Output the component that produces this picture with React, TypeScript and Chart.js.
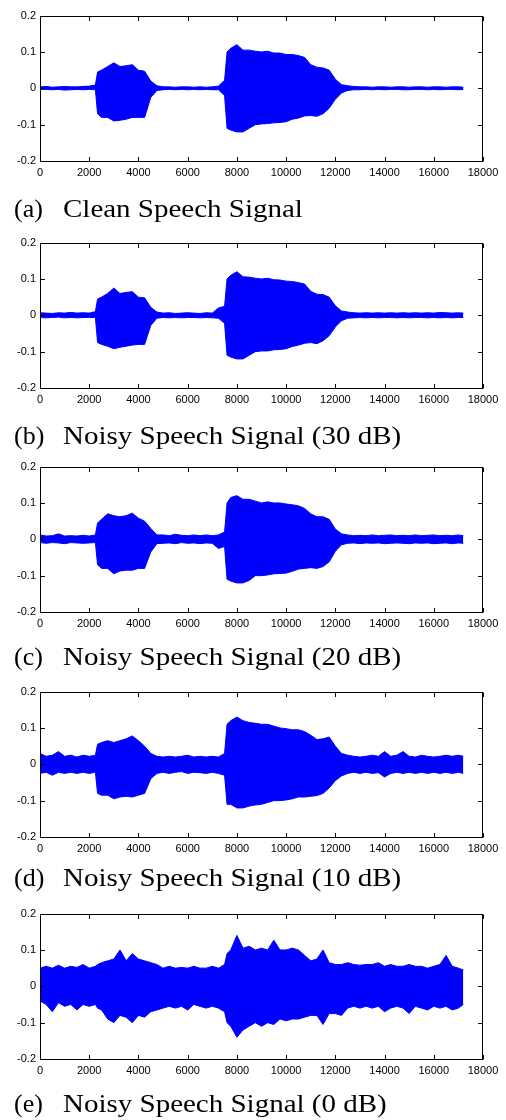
import React, { useEffect, useRef } from 'react';
import { Chart, registerables } from 'chart.js';

Chart.register(...registerables);

// sample positions (x axis) at which the envelope was read
const XS = [
  0, 250, 500, 750, 1000, 1250, 1500, 1750, 2000, 2250, 2340,
  2500, 2750, 3000, 3250, 3500, 3750, 4000, 4250, 4500, 4750,
  5000, 5250, 5500, 5750, 6000, 6250, 6500, 6750, 7000, 7250,
  7500, 7600, 7750, 8000, 8250, 8500, 8750, 9000, 9250, 9500, 9750,
  10000, 10250, 10500, 10750, 11000, 11250, 11500, 11750, 12000, 12250,
  12500, 12750, 13000, 13250, 13500, 13750, 14000, 14250, 14500, 14750,
  15000, 15250, 15500, 15750, 16000, 16250, 16500, 16750, 17000, 17200,
];

// (a) clean speech: upper / lower envelope
const A_HI = [
  0.004, 0.005, 0.003, 0.004, 0.005, 0.004, 0.004, 0.005, 0.006, 0.009, 0.045,
  0.05, 0.06, 0.07, 0.06, 0.062, 0.065, 0.05, 0.047, 0.02, 0.007,
  0.004, 0.004, 0.003, 0.004, 0.004, 0.003, 0.004, 0.003, 0.004, 0.006,
  0.022, 0.1, 0.11, 0.12, 0.105, 0.105, 0.102, 0.1, 0.102, 0.097, 0.097,
  0.093, 0.093, 0.09, 0.085, 0.065, 0.058, 0.056, 0.05, 0.025, 0.01,
  0.007, 0.005, 0.004, 0.004, 0.003, 0.004, 0.004, 0.003, 0.004, 0.004,
  0.003, 0.004, 0.004, 0.003, 0.004, 0.004, 0.003, 0.004, 0.004, 0.003,
];
const A_LO = [
  -0.003, -0.003, -0.004, -0.003, -0.005, -0.004, -0.003, -0.004, -0.003, -0.004, -0.07,
  -0.08, -0.08, -0.09, -0.088, -0.085, -0.08, -0.08, -0.08, -0.025, -0.006,
  -0.004, -0.003, -0.004, -0.003, -0.004, -0.003, -0.004, -0.003, -0.004, -0.004,
  -0.02, -0.11, -0.115, -0.12, -0.12, -0.11, -0.1, -0.098, -0.097, -0.095, -0.094,
  -0.092, -0.085, -0.082, -0.076, -0.075, -0.077, -0.07, -0.055, -0.03, -0.013,
  -0.006, -0.004, -0.004, -0.003, -0.004, -0.003, -0.004, -0.003, -0.003, -0.004,
  -0.004, -0.003, -0.003, -0.004, -0.003, -0.004, -0.003, -0.003, -0.004, -0.003,
];

// (b) 30 dB
const B_HI = [
  0.007, 0.006, 0.005, 0.007, 0.006, 0.008, 0.006, 0.007, 0.006, 0.01, 0.045,
  0.05, 0.06, 0.075, 0.06, 0.063, 0.065, 0.05, 0.048, 0.022, 0.009,
  0.006, 0.007, 0.005, 0.006, 0.007, 0.006, 0.005, 0.007, 0.006, 0.02,
  0.025, 0.1, 0.11, 0.12, 0.106, 0.105, 0.102, 0.1, 0.102, 0.098, 0.097,
  0.094, 0.093, 0.09, 0.086, 0.066, 0.058, 0.057, 0.05, 0.026, 0.012,
  0.009, 0.007, 0.006, 0.007, 0.006, 0.007, 0.006, 0.007, 0.006, 0.007,
  0.006, 0.007, 0.006, 0.007, 0.006, 0.008, 0.007, 0.006, 0.007, 0.006,
];
const B_LO = [
  -0.006, -0.007, -0.006, -0.005, -0.007, -0.006, -0.007, -0.006, -0.006, -0.006, -0.075,
  -0.08, -0.085, -0.092, -0.088, -0.085, -0.082, -0.08, -0.08, -0.028, -0.008,
  -0.006, -0.007, -0.006, -0.007, -0.006, -0.006, -0.007, -0.006, -0.007, -0.008,
  -0.022, -0.11, -0.115, -0.12, -0.12, -0.11, -0.1, -0.098, -0.098, -0.095, -0.094,
  -0.092, -0.086, -0.082, -0.077, -0.075, -0.078, -0.07, -0.056, -0.032, -0.015,
  -0.008, -0.007, -0.006, -0.007, -0.006, -0.007, -0.006, -0.006, -0.007, -0.006,
  -0.007, -0.006, -0.006, -0.007, -0.006, -0.007, -0.006, -0.007, -0.006, -0.006,
];

// (c) 20 dB
const C_HI = [
  0.012, 0.009, 0.01, 0.015, 0.009, 0.01, 0.009, 0.011, 0.009, 0.012, 0.045,
  0.055, 0.07, 0.065, 0.062, 0.065, 0.072, 0.058, 0.05, 0.03, 0.012,
  0.012, 0.01, 0.014, 0.011, 0.01, 0.012, 0.01, 0.012, 0.01, 0.012,
  0.02, 0.1, 0.115, 0.12, 0.11, 0.11, 0.105, 0.1, 0.103, 0.1, 0.1,
  0.097, 0.095, 0.092, 0.085, 0.07, 0.062, 0.062, 0.055, 0.028, 0.015,
  0.012, 0.01, 0.011, 0.01, 0.012, 0.01, 0.011, 0.012, 0.01, 0.011,
  0.01, 0.012, 0.01, 0.011, 0.012, 0.01, 0.011, 0.01, 0.012, 0.01,
];
const C_LO = [
  -0.009, -0.011, -0.009, -0.01, -0.012, -0.009, -0.01, -0.011, -0.01, -0.009, -0.07,
  -0.08, -0.08, -0.095, -0.087, -0.085, -0.085, -0.08, -0.08, -0.035, -0.012,
  -0.011, -0.01, -0.012, -0.009, -0.011, -0.01, -0.012, -0.01, -0.011, -0.025,
  -0.02, -0.11, -0.115, -0.12, -0.12, -0.113, -0.1, -0.1, -0.098, -0.095, -0.094,
  -0.093, -0.088, -0.082, -0.08, -0.078, -0.08, -0.075, -0.062, -0.033, -0.015,
  -0.011, -0.01, -0.012, -0.01, -0.011, -0.01, -0.012, -0.011, -0.01, -0.011,
  -0.012, -0.01, -0.011, -0.01, -0.012, -0.011, -0.01, -0.012, -0.01, -0.011,
];

// (d) 10 dB
const D_HI = [
  0.03, 0.022, 0.025, 0.035, 0.022, 0.025, 0.02, 0.025, 0.022, 0.025, 0.055,
  0.06, 0.065, 0.06, 0.065, 0.07, 0.078, 0.065, 0.05, 0.03, 0.022,
  0.02, 0.022, 0.02, 0.022, 0.025, 0.02, 0.022, 0.02, 0.022, 0.02,
  0.03, 0.11, 0.12, 0.13, 0.12, 0.115, 0.113, 0.11, 0.11, 0.105, 0.1,
  0.098, 0.095, 0.095, 0.09, 0.08, 0.068, 0.07, 0.075, 0.05, 0.03,
  0.025, 0.022, 0.02, 0.022, 0.025, 0.022, 0.035, 0.022, 0.025, 0.035,
  0.022, 0.02, 0.025, 0.022, 0.02, 0.022, 0.025, 0.022, 0.025, 0.022,
];
const D_LO = [
  -0.025, -0.022, -0.03, -0.022, -0.025, -0.022, -0.025, -0.022, -0.025, -0.022, -0.08,
  -0.085, -0.085, -0.095, -0.09, -0.088, -0.09, -0.085, -0.08, -0.04, -0.025,
  -0.022, -0.025, -0.022, -0.02, -0.025, -0.022, -0.023, -0.025, -0.022, -0.025,
  -0.03, -0.11, -0.11, -0.12, -0.12, -0.115, -0.112, -0.11, -0.105, -0.1, -0.1,
  -0.098, -0.095, -0.09, -0.09, -0.088, -0.086, -0.08, -0.065, -0.045, -0.032,
  -0.025, -0.022, -0.025, -0.022, -0.025, -0.023, -0.035, -0.025, -0.022, -0.025,
  -0.022, -0.025, -0.022, -0.025, -0.022, -0.025, -0.022, -0.025, -0.022, -0.025,
];

// (e) 0 dB
const E_HI = [
  0.05, 0.055, 0.05, 0.058, 0.05, 0.055, 0.052, 0.06, 0.05, 0.055, 0.06,
  0.065, 0.07, 0.075, 0.1, 0.07, 0.09, 0.075, 0.07, 0.065, 0.06,
  0.05, 0.055, 0.05, 0.052, 0.05, 0.055, 0.05, 0.05, 0.055, 0.05,
  0.06, 0.09, 0.1, 0.14, 0.105, 0.11, 0.1, 0.105, 0.1, 0.127, 0.1,
  0.1, 0.105, 0.1, 0.085, 0.07, 0.075, 0.1, 0.065, 0.06, 0.06,
  0.065, 0.06, 0.058, 0.06, 0.06, 0.065, 0.055, 0.06, 0.055, 0.055,
  0.06, 0.055, 0.055, 0.05, 0.055, 0.06, 0.085, 0.055, 0.05, 0.045,
];
const E_LO = [
  -0.04, -0.05, -0.07, -0.045, -0.055, -0.05, -0.065, -0.05, -0.055, -0.05, -0.06,
  -0.065, -0.09, -0.1, -0.08, -0.085, -0.1, -0.08, -0.085, -0.07, -0.065,
  -0.06, -0.055, -0.06, -0.055, -0.065, -0.05, -0.055, -0.06, -0.055, -0.06,
  -0.07, -0.1, -0.11, -0.14, -0.12, -0.11, -0.1, -0.11, -0.1, -0.105, -0.09,
  -0.095, -0.09, -0.09, -0.085, -0.08, -0.08, -0.105, -0.075, -0.075, -0.08,
  -0.06, -0.055, -0.06, -0.055, -0.06, -0.055, -0.07, -0.06, -0.055, -0.06,
  -0.075, -0.055, -0.06, -0.065, -0.055, -0.06, -0.055, -0.065, -0.06, -0.05,
];

const X_TICKS = [0, 2000, 4000, 6000, 8000, 10000, 12000, 14000, 16000, 18000];
const Y_TICKS = [-0.2, -0.1, 0, 0.1, 0.2];
const Y_TICK_LABELS = ['-0.2', '-0.1', '0', '0.1', '0.2'];

const PANEL_LABELS = ['(a)', '(b)', '(c)', '(d)', '(e)'];
const PANEL_TITLES = [
  'Clean Speech Signal',
  'Noisy Speech Signal (30 dB)',
  'Noisy Speech Signal (20 dB)',
  'Noisy Speech Signal (10 dB)',
  'Noisy Speech Signal (0 dB)',
];
const PANEL_HI = [A_HI, B_HI, C_HI, D_HI, E_HI];
const PANEL_LO = [A_LO, B_LO, C_LO, D_LO, E_LO];

// layout
const W = 506;
const BLUE = '#0000ff';
const PLOT_TOPS = [15, 242, 466, 691, 913];
const CAPTION_BASELINES = [218, 445, 666, 887, 1113];
const PLOT_H = 146;
const PAD_TOP = 10;
const CANVAS_H = 190;
const TICK_FONT = { family: "'Liberation Sans', Arial, sans-serif", size: 11 };

const framePlugin = {
  id: 'matlabFrame',
  afterDraw(chart: any) {
    const { ctx, chartArea, scales } = chart;
    const x = scales.x;
    const y = scales.y;
    const l = Math.round(chartArea.left) + 0.5;
    const r = Math.round(chartArea.right) - 0.5;
    const t = Math.round(chartArea.top) + 0.5;
    const b = Math.round(chartArea.bottom) + 0.5;
    const T = 4.5;
    ctx.save();
    ctx.strokeStyle = '#000';
    ctx.lineWidth = 1;
    ctx.strokeRect(l, t, r - l, b - t);
    ctx.beginPath();
    X_TICKS.forEach((v) => {
      const px = Math.round(x.getPixelForValue(v)) + 0.5;
      ctx.moveTo(px, b);
      ctx.lineTo(px, b - T);
      ctx.moveTo(px, t);
      ctx.lineTo(px, t + T);
    });
    Y_TICKS.forEach((v) => {
      const py = Math.round(y.getPixelForValue(v)) + 0.5;
      ctx.moveTo(l, py);
      ctx.lineTo(l + T, py);
      ctx.moveTo(r, py);
      ctx.lineTo(r - T, py);
    });
    ctx.stroke();
    ctx.restore();
  },
};

function Panel({ hi, lo, top }: { hi: number[]; lo: number[]; top: number }) {
  const ref = useRef<HTMLCanvasElement | null>(null);
  useEffect(() => {
    if (!ref.current) return;
    const chart = new Chart(ref.current, {
      type: 'line',
      data: {
        datasets: [
          {
            data: XS.map((x, i) => ({ x, y: hi[i] })),
            borderColor: BLUE,
            borderWidth: 1,
            pointRadius: 0,
            tension: 0,
            fill: false,
          },
          {
            data: XS.map((x, i) => ({ x, y: lo[i] })),
            borderColor: BLUE,
            backgroundColor: BLUE,
            borderWidth: 1,
            pointRadius: 0,
            tension: 0,
            fill: '-1',
          },
        ],
      },
      options: {
        animation: false,
        responsive: false,
        maintainAspectRatio: false,
        devicePixelRatio: 1,
        events: [],
        layout: { padding: { left: 0, right: W - 483, top: PAD_TOP, bottom: 0 } },
        plugins: { legend: { display: false }, tooltip: { enabled: false } },
        scales: {
          x: {
            type: 'linear',
            min: 0,
            max: 18000,
            afterBuildTicks: (s: any) => {
              s.ticks = X_TICKS.map((v) => ({ value: v }));
            },
            ticks: {
              callback: (v: any) => String(v),
              font: TICK_FONT,
              color: '#000',
              padding: 5,
              maxRotation: 0,
              autoSkip: false,
            },
            grid: { display: false, drawTicks: false },
            border: { display: false },
            afterFit: (s: any) => {
              s.height = CANVAS_H - PAD_TOP - PLOT_H;
            },
          },
          y: {
            type: 'linear',
            min: -0.2,
            max: 0.2,
            afterBuildTicks: (s: any) => {
              s.ticks = Y_TICKS.map((v) => ({ value: v }));
            },
            ticks: {
              callback: (v: any) => Y_TICK_LABELS[Y_TICKS.findIndex((t) => Math.abs(t - v) < 1e-6)],
              font: TICK_FONT,
              color: '#000',
              padding: 4,
            },
            grid: { display: false, drawTicks: false },
            border: { display: false },
            afterFit: (s: any) => {
              s.width = 40;
            },
          },
        },
      },
      plugins: [framePlugin],
    });
    return () => chart.destroy();
  }, [hi, lo]);
  return (
    <canvas
      ref={ref}
      width={W}
      height={CANVAS_H}
      style={{ position: 'absolute', left: 0, top: top - PAD_TOP, width: W, height: CANVAS_H }}
    />
  );
}

export default function App() {
  const serif = "'Liberation Serif', 'Times New Roman', serif";
  return (
    <div style={{ position: 'absolute', left: 0, top: 0, width: W, height: 1120, background: '#fff', overflow: 'hidden' }}>
      {PLOT_TOPS.map((top, i) => (
        <React.Fragment key={i}>
          <Panel hi={PANEL_HI[i]} lo={PANEL_LO[i]} top={top} />
          <div
            style={{
              position: 'absolute',
              left: 14,
              top: CAPTION_BASELINES[i] - 22,
              fontFamily: serif,
              fontSize: 26,
              lineHeight: '26px',
              whiteSpace: 'nowrap',
              color: '#000',
            }}
          >
            {PANEL_LABELS[i]}
          </div>
          <div
            style={{
              position: 'absolute',
              left: 62.7,
              top: CAPTION_BASELINES[i] - 22,
              fontFamily: serif,
              fontSize: 26,
              lineHeight: '26px',
              whiteSpace: 'nowrap',
              color: '#000',
              transform: 'scaleX(1.115)',
              transformOrigin: 'left top',
            }}
          >
            {PANEL_TITLES[i]}
          </div>
        </React.Fragment>
      ))}
    </div>
  );
}
